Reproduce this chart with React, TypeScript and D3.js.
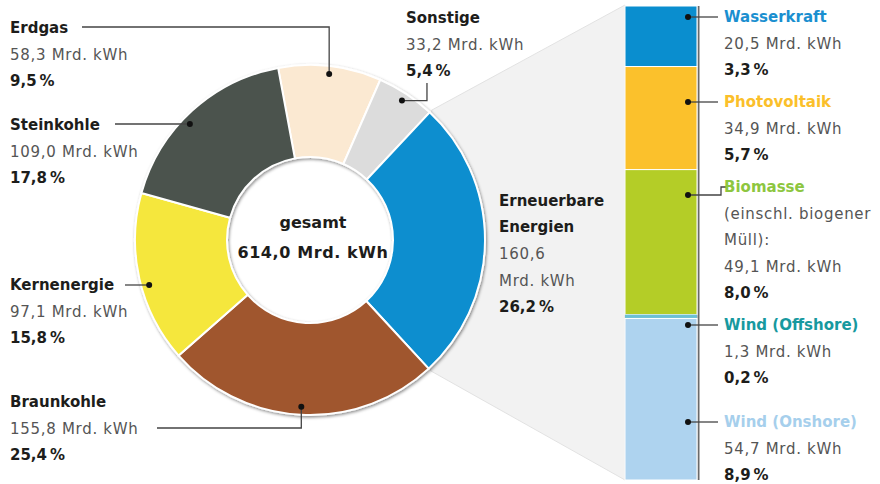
import React from "react";
import * as d3 from "d3";

// Stromerzeugung nach Energieträgern
const categories = ["Erdgas", "Sonstige", "Erneuerbare Energien", "Braunkohle", "Kernenergie", "Steinkohle"];
const values = [58.3, 33.2, 160.6, 155.8, 97.1, 109.0];
const sliceColors = ["#fbe9d2", "#dcdcdc", "#0a8ecf", "#a0572f", "#f5e73c", "#4b534e"];

// Aufteilung der Erneuerbaren
const renewNames = ["Wasserkraft", "Photovoltaik", "Biomasse", "Wind (Offshore)", "Wind (Onshore)"];
const renewValues = [20.5, 34.9, 49.1, 1.3, 54.7];
const renewColors = ["#0a8ecf", "#fbc12c", "#b4cd27", "#6cc0d4", "#aed3ef"];
const renewTextColors = ["#1a8fd0", "#fbbf2a", "#8dc63f", "#17999f", "#a6cfec"];
const renewExtra = [[], [], ["(einschl. biogener", "Müll):"], [], []];

const W = 880, H = 484;
const cx = 310, cy = 240, rOuter = 175, rInner = 83, rDot = 167;
const lineH = 26.5;
const font = "'DejaVu Sans', sans-serif";

const total = d3.sum(values);
const num = (v: number) => d3.format(".1f")(v).replace(".", ",");
const kwh = (v: number) => `${num(v)} Mrd. kWh`;
const pct = (v: number) => `${num((v / total) * 100)}\u2009%`;

const start = (-10.5 * Math.PI) / 180;
const pie = d3.pie<number>().sort(null).startAngle(start).endAngle(start + 2 * Math.PI);
const arcs = pie(values);
const arcGen = d3.arc<d3.PieArcDatum<number>>().innerRadius(rInner).outerRadius(rOuter);

const polar = (a: number, r: number) => [cx + Math.sin(a) * r, cy - Math.cos(a) * r];
const mid = (i: number) => (arcs[i].startAngle + arcs[i].endAngle) / 2;

// bar of the renewables
const barX = 625, barW = 72;
const yBar = d3.scaleLinear().domain([0, d3.sum(renewValues)]).range([6, 480]);
const cum = [0, ...Array.from(d3.cumsum(renewValues))];

const Label = ({ x, y, title, lines, color = "#1d1d1b", pctText, anchor = "start" }: any) => (
  <g fontFamily={font} fontSize={15} textAnchor={anchor}>
    <text x={x} y={y + 5} fontWeight="bold" fill={color}>{title}</text>
    {lines.map((l: string, i: number) => (
      <text key={i} x={x} y={y + 5 + lineH * (i + 1)} fill="#555" letterSpacing={0.7}>{l}</text>
    ))}
    <text x={x} y={y + 5 + lineH * (lines.length + 1)} fontWeight="bold" fill="#1d1d1b">{pctText}</text>
  </g>
);

const Dot = ({ p }: { p: number[] }) => <circle cx={p[0]} cy={p[1]} r={3} fill="#111" />;

export default function App() {
  const ren = 2;
  const fanTop = polar(arcs[ren].startAngle, rOuter + 3);
  const fanBot = polar(arcs[ren].endAngle, rOuter + 3);

  // leader dots
  const dErdgas = polar(mid(0), rDot);
  const dSonst = polar(mid(1), rDot);
  const dBraun = polar(mid(3), rDot);
  const onCircleLeft = (y: number) => [cx - Math.sqrt(rDot * rDot - (y - cy) * (y - cy)), y];
  const dStein = onCircleLeft(124);
  const dKern = onCircleLeft(285);

  const titleY = [17, 102, 187, 325, 422];
  const dotY = [17, 102, 195, 325, 422];
  const line = { stroke: "#444", strokeWidth: 1.3, fill: "none" };

  return (
    <div style={{ position: "absolute", left: 0, top: 0 }}>
      <svg width={W} height={H} style={{ display: "block", background: "#fff" }}>
        <defs>
          <filter id="sh" x="-20%" y="-20%" width="140%" height="140%">
            <feDropShadow dx={1} dy={1.5} stdDeviation={1.6} floodColor="#000" floodOpacity={0.45} />
          </filter>
        </defs>

        {/* fan from donut to bar */}
        <polygon
          points={[fanTop, [barX, yBar(0) - 1], [barX, yBar(d3.sum(renewValues))], fanBot].map((p) => p.join(",")).join(" ")}
          fill="#f2f2f2"
          stroke="#e2e2e2"
        />

        {/* donut */}
        <g filter="url(#sh)" transform={`translate(${cx},${cy})`}>
          {arcs.map((a, i) => (
            <path key={categories[i]} d={arcGen(a) as string} fill={sliceColors[i]} stroke="#fff" strokeWidth={2} />
          ))}
        </g>

        <g fontFamily={font} fontWeight="bold" fontSize={16} fill="#1d1d1b" textAnchor="middle">
          <text x={cx + 3} y={228}>gesamt</text>
          <text x={cx + 3} y={258} letterSpacing={0.6}>{kwh(total)}</text>
        </g>

        {/* leaders left */}
        <path d={`M82,27H${dErdgas[0]}V${dErdgas[1]}`} {...line} />
        <path d={`M${dSonst[0]},${dSonst[1]}H${dSonst[0] + 25}V83`} {...line} />
        <path d={`M115,124H${dStein[0]}`} {...line} />
        <path d={`M125,285H${dKern[0]}`} {...line} />
        <path d={`M157,428H${dBraun[0]}V${dBraun[1]}`} {...line} />
        {[dErdgas, dSonst, dStein, dKern, dBraun].map((p, i) => <Dot key={i} p={p} />)}

        <Label x={10} y={28} title={categories[0]} lines={[kwh(values[0])]} pctText={pct(values[0])} />
        <Label x={406} y={18} title={categories[1]} lines={[kwh(values[1])]} pctText={pct(values[1])} />
        <Label x={10} y={125} title={categories[5]} lines={[kwh(values[5])]} pctText={pct(values[5])} />
        <Label x={10} y={285} title={categories[4]} lines={[kwh(values[4])]} pctText={pct(values[4])} />
        <Label x={10} y={402} title={categories[3]} lines={[kwh(values[3])]} pctText={pct(values[3])} />
        <g fontFamily={font} fontSize={15}>
          <text x={499} y={206} fontWeight="bold" fill="#1d1d1b">Erneuerbare</text>
          <text x={499} y={232} fontWeight="bold" fill="#1d1d1b">Energien</text>
          <text x={499} y={259} fill="#555" letterSpacing={0.7}>{num(values[2])}</text>
          <text x={499} y={286} fill="#555" letterSpacing={0.7}>Mrd. kWh</text>
          <text x={499} y={312} fontWeight="bold" fill="#1d1d1b">{pct(values[2])}</text>
        </g>

        {/* stacked bar */}
        <line x1={barX + barW + 1.5} x2={barX + barW + 1.5} y1={yBar(0)} y2={yBar(d3.sum(renewValues))} stroke="#6a6a6a" strokeWidth={2} />
        {renewValues.map((v, i) => (
          <rect
            key={renewNames[i]}
            x={barX}
            y={yBar(cum[i])}
            width={barW}
            height={yBar(cum[i + 1]) - yBar(cum[i])}
            fill={renewColors[i]}
            stroke="#fff"
            strokeWidth={i === 3 ? 0 : 1}
          />
        ))}

        {renewNames.map((n, i) => (
          <g key={n}>
            <path
              d={dotY[i] === titleY[i] ? `M688,${dotY[i]}H718` : `M688,${dotY[i]}H721V${titleY[i]}H726`}
              {...line}
            />
            <circle cx={688} cy={dotY[i]} r={3} fill="#111" />
            <Label
              x={724}
              y={titleY[i]}
              title={n}
              color={renewTextColors[i]}
              lines={[...renewExtra[i], kwh(renewValues[i])]}
              pctText={pct(renewValues[i])}
            />
          </g>
        ))}
      </svg>
    </div>
  );
}
